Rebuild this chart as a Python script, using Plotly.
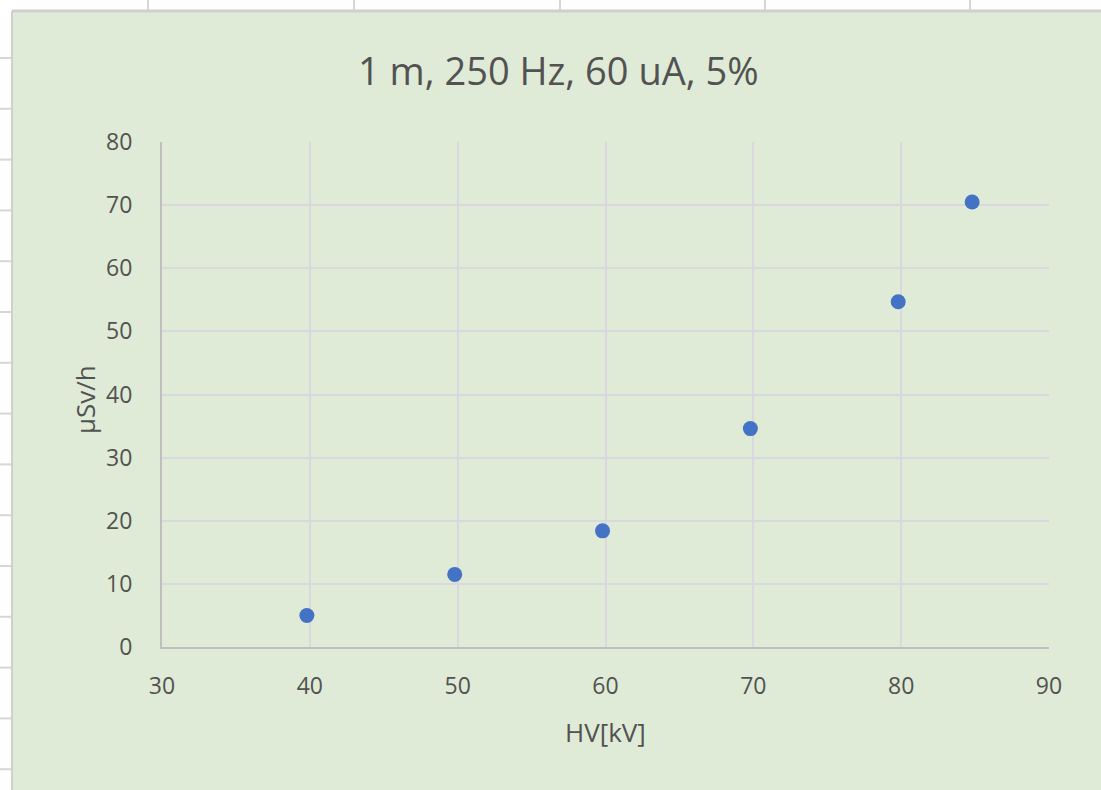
import plotly.graph_objects as go

# Measured dose rate vs. tube high voltage
hv_kv = [39.8, 49.8, 59.8, 69.8, 79.8, 84.8]
dose_usv_h = [5.0, 11.5, 18.4, 34.6, 54.7, 70.5]

x_ticks = [30, 40, 50, 60, 70, 80, 90]
y_ticks = [0, 10, 20, 30, 40, 50, 60, 70, 80]

title_text = "1 m, 250 Hz, 60 uA, 5%"
x_title = "HV[kV]"
y_title = "µSv/h"

W, H = 1101, 790
L, R, T, B = 162, 1049, 142, 647  # plot area in pixels

def px(x):
    return (x - L) / (R - L)

def py(y):
    return (B - y) / (B - T)

FONT = "Open Sans, Lato, sans-serif"
TXT = "#525252"
GRID = "#D9D8DE"
SHEET_LINE = "#D6D6D6"

fig = go.Figure()
fig.add_trace(go.Scatter(
    x=hv_kv, y=dose_usv_h, mode="markers",
    marker=dict(size=15, color="#4472C4", line=dict(width=0)),
    showlegend=False, cliponaxis=False,
))

shapes = []
# spreadsheet background: green chart area over white cells
shapes.append(dict(type="rect", xref="paper", yref="paper", layer="below",
                   x0=px(12), x1=px(W + 5), y0=py(11), y1=py(H + 5),
                   fillcolor="#DFEBD6", line=dict(width=0)))
# cell lines in the top row
for cx in [148, 354, 560, 765, 970]:
    shapes.append(dict(type="line", xref="paper", yref="paper", layer="below",
                       x0=px(cx), x1=px(cx), y0=py(0), y1=py(10),
                       line=dict(color=SHEET_LINE, width=2)))
# cell lines in the left column
pitch = 50.8
for i in range(15):
    cy = 58 + i * pitch
    shapes.append(dict(type="line", xref="paper", yref="paper", layer="below",
                       x0=px(0), x1=px(11), y0=py(cy), y1=py(cy),
                       line=dict(color=SHEET_LINE, width=2)))
# chart area border
shapes.append(dict(type="line", xref="paper", yref="paper", layer="below",
                   x0=px(12), x1=px(W + 5), y0=py(11), y1=py(11),
                   line=dict(color="#CFCFCF", width=3)))
shapes.append(dict(type="line", xref="paper", yref="paper", layer="below",
                   x0=px(12), x1=px(12), y0=py(11), y1=py(H + 5),
                   line=dict(color="#CFCFCF", width=2)))

annotations = [
    dict(text=title_text, xref="paper", yref="paper", x=px(558), y=py(70),
         xanchor="center", yanchor="middle", showarrow=False,
         font=dict(family=FONT, size=38, color=TXT)),
    dict(text=x_title, xref="paper", yref="paper", x=px(605), y=py(732),
         xanchor="center", yanchor="middle", showarrow=False,
         font=dict(family=FONT, size=26, color=TXT)),
    dict(text=y_title, xref="paper", yref="paper", x=px(85), y=py(400),
         xanchor="center", yanchor="middle", showarrow=False, textangle=-90,
         font=dict(family=FONT, size=26, color=TXT)),
]

fig.update_layout(
    width=W, height=H,
    margin=dict(l=L, r=W - R, t=T, b=H - B, pad=0),
    paper_bgcolor="white",
    plot_bgcolor="rgba(0,0,0,0)",
    shapes=shapes,
    annotations=annotations,
    font=dict(family=FONT, color=TXT),
)
fig.update_xaxes(
    range=[30, 90], tickvals=x_ticks, ticktext=[str(v) for v in x_ticks],
    showgrid=True, gridcolor=GRID, gridwidth=2,
    showline=True, linecolor="#BFBFBF", linewidth=2, mirror=False,
    zeroline=False, ticks="outside", ticklen=17, tickcolor="rgba(0,0,0,0)",
    tickfont=dict(family=FONT, size=23, color=TXT), fixedrange=True,
)
fig.update_yaxes(
    range=[0, 80], tickvals=y_ticks, ticktext=[str(v) for v in y_ticks],
    showgrid=True, gridcolor=GRID, gridwidth=2,
    showline=True, linecolor="#BFBFBF", linewidth=2, mirror=False,
    zeroline=False, ticks="outside", ticklen=23, tickcolor="rgba(0,0,0,0)",
    tickfont=dict(family=FONT, size=23, color=TXT), fixedrange=True,
)

fig.write_html("out.html", config=dict(displayModeBar=False))
